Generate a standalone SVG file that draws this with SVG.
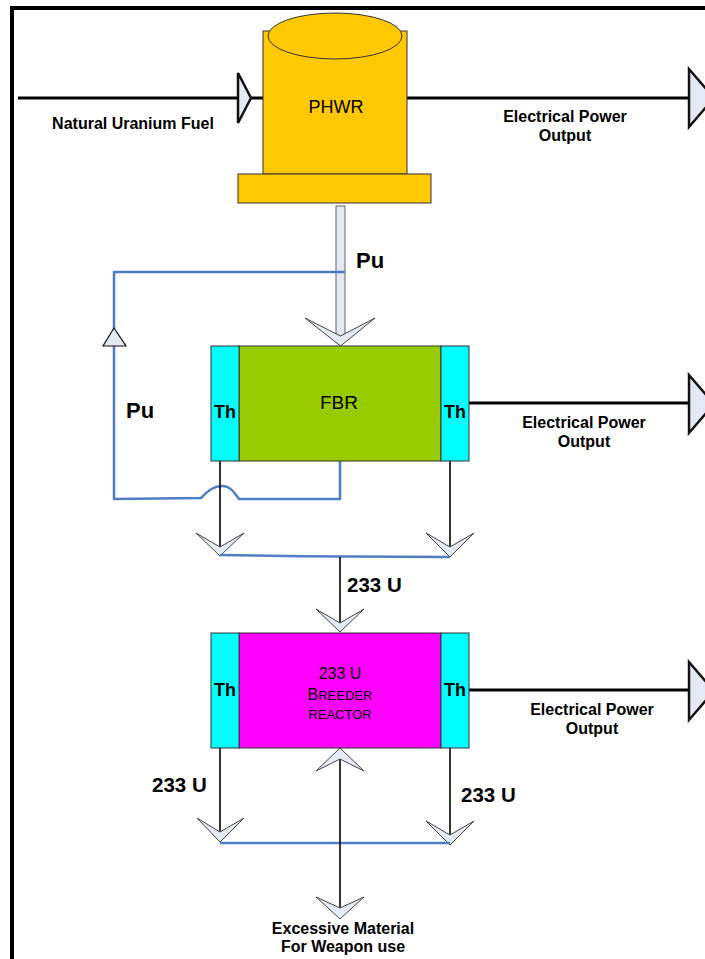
<svg xmlns="http://www.w3.org/2000/svg" width="705" height="959" viewBox="0 0 705 959">
<style>
.frame{fill:none;stroke:#000;stroke-width:4}
.box{stroke:#333;stroke-width:1}
.thick{fill:none;stroke:#000;stroke-width:3}
.thin{fill:none;stroke:#000;stroke-width:1.6}
.blue{fill:none;stroke:#4F7EC4;stroke-width:2.5;stroke-linejoin:round}
.tri{fill:#E4EAF4;stroke:#111;stroke-width:2.5;stroke-linejoin:miter}
.chev{fill:#E4EAF4;stroke:#444;stroke-width:1}
.smalltri{fill:#E4EAF4;stroke:#111;stroke-width:1.2}
text{font-family:"Liberation Sans",Arial,sans-serif;fill:#000}
.lbl{font-size:16px;font-weight:bold;text-anchor:middle}
.big{font-size:22px;font-weight:bold}
.num{font-size:20.5px;font-weight:bold}
.th{font-size:18px;font-weight:bold;text-anchor:middle}
.name{text-anchor:middle}
</style>
<rect width="705" height="959" fill="#fff"/>
<path class="frame" d="M12,959 V8 H705"/>

<g id="connectors">
  <!-- input to PHWR -->
  <line class="thick" x1="18" y1="98" x2="263" y2="98"/>
  <polygon class="tri" points="238,73 251,98 238,123"/>
  <!-- PHWR output -->
  <line class="thick" x1="406" y1="98" x2="690" y2="98"/>
  <polygon class="tri" points="689,69 714,98 689,127"/>
  <!-- FBR output -->
  <line class="thick" x1="469" y1="403" x2="690" y2="403"/>
  <polygon class="tri" points="689,375 714,404 689,433"/>
  <!-- 233U reactor output -->
  <line class="thick" x1="469" y1="690" x2="690" y2="690"/>
  <polygon class="tri" points="689,662 714,691 689,720"/>

  <!-- Pu hollow arrow from PHWR to FBR -->
  <rect x="336" y="206" width="9" height="132" fill="#E4EAF4" stroke="#666" stroke-width="1"/>
  <polygon class="chev" points="305,318 340.5,346 375,318 340.5,336"/>

  <!-- Pu feedback loop -->
  <path class="blue" d="M345,272 H114 V499 L201,498 C209,490 214,486 222,486 C230,486 234,492 239,499 L340,499 V461"/>
  <polygon class="smalltri" points="114,328 103,346 126,346"/>

  <!-- FBR down lines -->
  <line class="thin" x1="220" y1="461" x2="220" y2="547"/>
  <line class="thin" x1="450" y1="461" x2="450" y2="547"/>
  <polygon class="chev" points="196,533 220,556 244,533 220,547"/>
  <polygon class="chev" points="426,533 450,557 474,533 450,547"/>
  <path class="blue" d="M220,555 Q330,557 450,557"/>
  <line class="thin" x1="340" y1="557" x2="340" y2="623"/>
  <polygon class="chev" points="316,609 340,632 364,609 340,623"/>

  <!-- 233U reactor down lines -->
  <line class="thin" x1="220" y1="748" x2="220" y2="832"/>
  <line class="thin" x1="450" y1="748" x2="450" y2="835"/>
  <polygon class="chev" points="197,818 220,842 244,818 220,832"/>
  <polygon class="chev" points="426,821 450,845 474,821 450,835"/>
  <line class="blue" x1="220" y1="843" x2="450" y2="843"/>
  <line class="thin" x1="340" y1="759" x2="340" y2="908"/>
  <polygon class="chev" points="316,771 340,748 364,771 340,759"/>
  <polygon class="chev" points="316,897 340,919 364,897 340,908"/>
</g>

<g id="phwr">
  <rect class="box" x="263" y="31" width="144" height="143" fill="#FFC800"/>
  <ellipse class="box" cx="335" cy="36" rx="67" ry="23" fill="#FFC800"/>
  <rect class="box" x="238" y="174" width="193" height="29" fill="#FFC800"/>
  <text class="name" x="336" y="113" font-size="18">PHWR</text>
</g>

<g id="fbr">
  <rect class="box" x="239" y="346" width="202" height="115" fill="#99CC00"/>
  <rect class="box" x="211" y="346" width="28" height="115" fill="#00FFFF"/>
  <rect class="box" x="441" y="346" width="28" height="115" fill="#00FFFF"/>
  <text class="name" x="339" y="409" font-size="19">FBR</text>
  <text class="th" x="225" y="418">Th</text>
  <text class="th" x="455" y="418">Th</text>
</g>

<g id="u233-breeder">
  <rect class="box" x="239" y="633" width="202" height="115" fill="#FF00FF"/>
  <rect class="box" x="211" y="633" width="28" height="115" fill="#00FFFF"/>
  <rect class="box" x="441" y="633" width="28" height="115" fill="#00FFFF"/>
  <text class="name" x="340" y="679" font-size="16">233 U</text>
  <text class="name" x="340" y="700" font-size="16">B<tspan font-size="13">REEDER</tspan></text>
  <text class="name" x="340" y="719" font-size="13">REACTOR</text>
  <text class="th" x="225" y="696">Th</text>
  <text class="th" x="455" y="696">Th</text>
</g>

<g id="labels">
  <text class="lbl" x="133" y="129">Natural Uranium Fuel</text>
  <text class="lbl" x="565" y="122">Electrical Power</text>
  <text class="lbl" x="565" y="141">Output</text>
  <text class="big" x="356" y="268">Pu</text>
  <text class="big" x="126" y="418">Pu</text>
  <text class="lbl" x="584" y="428">Electrical Power</text>
  <text class="lbl" x="584" y="447">Output</text>
  <text class="num" x="347" y="592">233 U</text>
  <text class="lbl" x="592" y="715">Electrical Power</text>
  <text class="lbl" x="592" y="734">Output</text>
  <text class="num" x="152" y="792">233 U</text>
  <text class="num" x="461" y="802">233 U</text>
  <text class="lbl" x="343" y="934">Excessive Material</text>
  <text class="lbl" x="343" y="952">For Weapon use</text>
</g>
</svg>
